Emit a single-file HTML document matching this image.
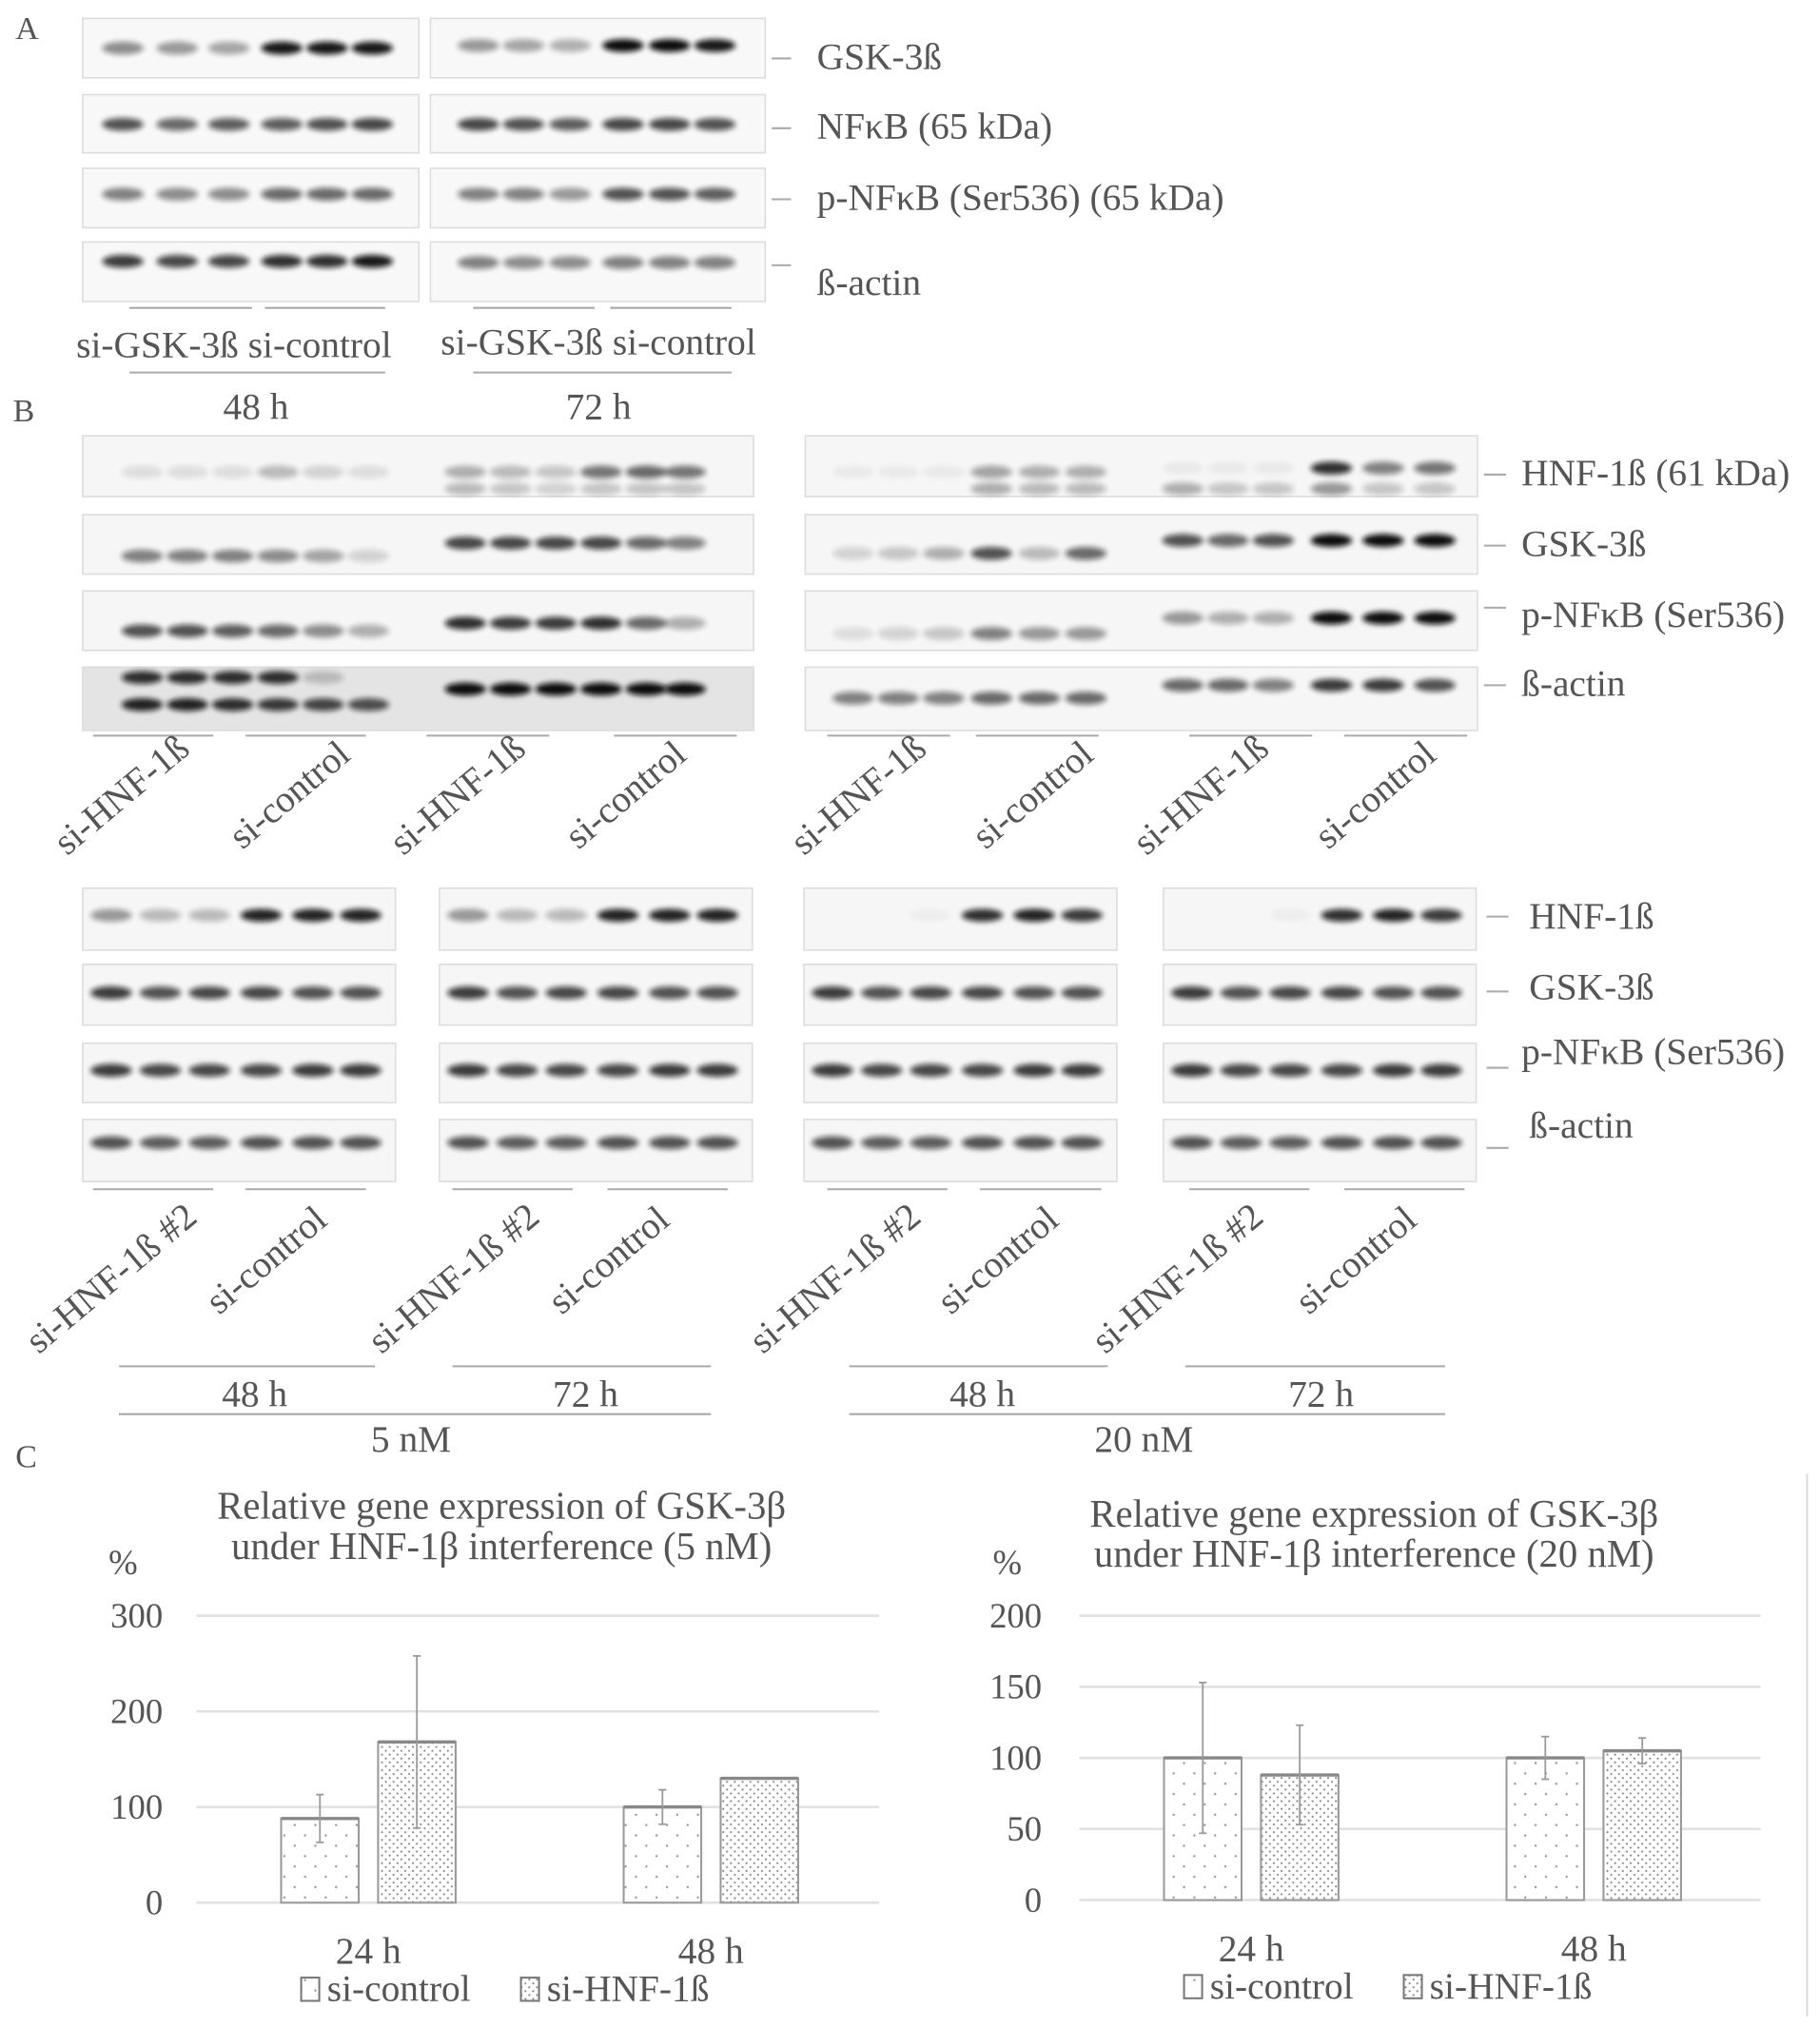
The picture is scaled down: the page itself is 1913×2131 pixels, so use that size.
<!DOCTYPE html>
<html><head><meta charset="utf-8"><style>
html,body{margin:0;padding:0;background:#fff}
svg{display:block}
text{font-family:"Liberation Serif",serif;fill:#555}
</style></head><body>
<svg id="fig" width="1913" height="2131" viewBox="0 0 1408 1568" xmlns="http://www.w3.org/2000/svg">
<defs>
<filter id="bl" x="-50%" y="-100%" width="200%" height="300%"><feGaussianBlur stdDeviation="2.2"/></filter>
<pattern id="pc" width="16" height="16" patternUnits="userSpaceOnUse"><rect width="16" height="16" fill="#fff"/><circle cx="4" cy="4" r="0.9" fill="#999"/><circle cx="12" cy="12" r="0.9" fill="#999"/></pattern>
<pattern id="ph" width="6" height="6" patternUnits="userSpaceOnUse"><rect width="6" height="6" fill="#fff"/><circle cx="1.5" cy="1.5" r="0.8" fill="#888"/><circle cx="4.5" cy="4.5" r="0.8" fill="#888"/></pattern>
</defs>
<g id="blots"></g>
<g id="txt" font-size="29">
<text x="12" y="30" font-size="25">A</text>
<text x="632" y="53">GSK-3ß</text>
<text x="632" y="107">NFκB (65 kDa)</text>
<text x="632" y="162">p-NFκB (Ser536) (65 kDa)</text>
<text x="632" y="228">ß-actin</text>
<text x="181" y="276" text-anchor="middle">si-GSK-3ß si-control</text>
<text x="463" y="274" text-anchor="middle">si-GSK-3ß si-control</text>
<text x="198" y="324" text-anchor="middle">48 h</text>
<text x="463" y="324" text-anchor="middle">72 h</text>
<text x="10" y="326" font-size="25">B</text>
<text x="1177" y="375">HNF-1ß (61 kDa)</text>
<text x="1177" y="430">GSK-3ß</text>
<text x="1177" y="485">p-NFκB (Ser536)</text>
<text x="1177" y="538">ß-actin</text>
<text x="1183" y="718">HNF-1ß</text>
<text x="1183" y="773">GSK-3ß</text>
<text x="1177" y="823">p-NFκB (Ser536)</text>
<text x="1183" y="880">ß-actin</text>
<text x="197" y="1088" text-anchor="middle">48 h</text>
<text x="453" y="1088" text-anchor="middle">72 h</text>
<text x="760" y="1088" text-anchor="middle">48 h</text>
<text x="1022" y="1088" text-anchor="middle">72 h</text>
<text x="318" y="1123" text-anchor="middle">5 nM</text>
<text x="885" y="1123" text-anchor="middle">20 nM</text>
<text x="12" y="1135" font-size="25">C</text>
</g>
<g id="charts"></g>
<line x1="1398" y1="1140" x2="1398" y2="1560" stroke="#ddd" stroke-width="1.5"/>
</svg>
<script>
// ---- chart data ----
const categories = ["24 h", "48 h"];
const c1Control = [88, 100];
const c1ControlErr = [25, 18];
const c1Hnf = [168, 130];
const c1HnfErr = [90, 0];
const c1Ticks = [0, 100, 200, 300];
const c2Control = [100, 100];
const c2ControlErr = [53, 15];
const c2Hnf = [88, 105];
const c2HnfErr = [35, 9];
const c2Ticks = [0, 50, 100, 150, 200];

const NS = "http://www.w3.org/2000/svg";
function mk(tag, attrs, parent) {
  const e = document.createElementNS(NS, tag);
  for (const k in attrs) e.setAttribute(k, attrs[k]);
  parent.appendChild(e);
  return e;
}
const blots = document.getElementById('blots');
const lines = document.getElementById('txt');

function box(x, y, w, h, bg, name) {
  const r = mk('rect', {x: x, y: y, width: w, height: h, fill: bg || '#f7f7f7', stroke: '#ddd', 'stroke-width': 1.2}, blots);
  
  
}
function bands(xs, y, ints, name, bw) {
  xs.forEach((x, i) => {
    if (ints[i] <= 0) return;
    const e = mk('ellipse', {cx: x, cy: y, rx: (bw || 32) / 2, ry: 5, fill: '#111', opacity: ints[i], filter: 'url(#bl)'}, blots);
    
    
  });
}
function hline(x1, x2, y, name) {
  const l = mk('line', {x1: x1, x2: x2, y1: y, y2: y, stroke: '#aaa', 'stroke-width': 1.5}, blots);
  
  
}
function rot(x, y, s, name) {
  const t = mk('text', {x: x, y: y, 'text-anchor': 'middle', transform: 'rotate(-40 ' + x + ' ' + y + ')'}, lines);
  t.textContent = s;
  
  
}

// Panel A
const aL = [95, 137, 177, 218, 253, 288], aR = [370, 405, 441, 482, 518, 553];
[[14, 60], [73, 118], [130, 176], [187, 233]].forEach((r, i) => {
  box(64, r[0], 260, r[1] - r[0], '#f8f8f8', 'blot-a-left');
  box(333, r[0], 259, r[1] - r[0], '#f8f8f8', 'blot-a-right');
});
bands(aL, 37, [.45, .4, .35, .95, .95, .95], 'band-gsk-a'); bands(aR, 35, [.4, .35, .3, 1, 1, .95], 'band-gsk-a');
bands(aL, 96, [.7, .6, .65, .65, .7, .75], 'band-nfkb-a'); bands(aR, 96, [.75, .7, .65, .75, .75, .7], 'band-nfkb-a');
bands(aL, 150, [.5, .45, .45, .6, .6, .6], 'band-pnfkb-a'); bands(aR, 150, [.5, .5, .4, .7, .7, .65], 'band-pnfkb-a');
bands(aL, 202, [.8, .75, .75, .85, .85, .95], 'band-actin-a'); bands(aR, 203, [.5, .45, .45, .5, .5, .5], 'band-actin-a');
[[45], [99], [154], [205]].forEach(v => hline(597, 612, v[0], 'label-tick'));
hline(100, 195, 238, 'group-line'); hline(205, 298, 238, 'group-line'); hline(366, 460, 238, 'group-line'); hline(472, 566, 238, 'group-line');
hline(100, 298, 288, 'time-line'); hline(366, 566, 288, 'time-line');

// Panel B top
const b1 = [110, 145, 180, 215, 250, 285], b2 = [360, 395, 430, 465, 500, 530];
const b3 = [660, 695, 730, 767, 804, 840], b4 = [915, 950, 985, 1030, 1070, 1110];
[[337, 384], [398, 444], [457, 503], [516, 565]].forEach((r, i) => {
  box(64, r[0], 519, r[1] - r[0], i === 3 ? '#e4e4e4' : '#f6f6f6', 'blot-b-left');
  box(623, r[0], 520, r[1] - r[0], '#f6f6f6', 'blot-b-right');
});
bands(b1, 365, [.1, .1, .1, .25, .15, .1], 'band-hnf'); bands(b2, 365, [.3, .25, .2, .55, .6, .55], 'band-hnf'); bands(b2, 378, [.25, .2, .15, .2, .2, .2], 'band-hnf');
bands(b3, 365, [.05, .05, .05, .35, .3, .3], 'band-hnf'); bands(b3, 378, [0, 0, 0, .3, .25, .25], 'band-hnf');
bands(b4, 362, [.05, .05, .05, .85, .5, .55], 'band-hnf'); bands(b4, 378, [.3, .2, .2, .4, .2, .2], 'band-hnf');
bands(b1, 430, [.5, .5, .5, .45, .35, .15], 'band-gsk'); bands(b2, 420, [.75, .75, .75, .75, .6, .5], 'band-gsk');
bands(b3, 428, [.15, .2, .3, .7, .25, .6], 'band-gsk'); bands(b4, 418, [.7, .6, .7, 1, 1, 1], 'band-gsk');
bands(b1, 488, [.7, .7, .65, .6, .45, .3], 'band-pnf'); bands(b2, 482, [.85, .8, .8, .85, .6, .3], 'band-pnf');
bands(b3, 490, [.1, .15, .2, .5, .4, .4], 'band-pnf'); bands(b4, 478, [.4, .3, .3, 1, 1, 1], 'band-pnf');
bands(b1, 524, [.85, .85, .85, .85, .2, 0], 'band-actin'); bands(b1, 545, [.9, .9, .85, .8, .75, .7], 'band-actin');
bands(b2, 533, [1, 1, 1, 1, 1, 1], 'band-actin');
bands(b3, 540, [.5, .5, .5, .6, .6, .6], 'band-actin'); bands(b4, 530, [.6, .6, .5, .8, .8, .7], 'band-actin');
[367, 422, 470, 530].forEach(v => hline(1148, 1165, v, 'label-tick'));
[[72, 165], [190, 283], [330, 425], [475, 570], [640, 735], [755, 850], [920, 1015], [1040, 1135]].forEach(p => hline(p[0], p[1], 569, 'group-line'));
[[100, 'si-HNF-1ß'], [230, 'si-control'], [360, 'si-HNF-1ß'], [490, 'si-control'], [670, 'si-HNF-1ß'], [805, 'si-control'], [935, 'si-HNF-1ß'], [1070, 'si-control']].forEach(p => rot(p[0], 622, p[1], 'lane-group-label'));

// Panel B bottom
const bx = [64, 340, 622, 900], off = [22, 60, 98, 138, 178, 215];
bx.forEach((x, bi) => {
  [[687, 735], [746, 793], [807, 853], [866, 914]].forEach(r => box(x, r[0], 242, r[1] - r[0], '#f6f6f6', 'blot-b2'));
  const xs = off.map(o => x + o);
  bands(xs, 708, bi < 2 ? [.4, .25, .25, .9, .9, .9] : [0, 0, .03, .85, .9, .8], 'band-hnf2');
  bands(xs, 768, [.8, .7, .75, .75, .7, .7], 'band-gsk2');
  bands(xs, 828, [.8, .75, .75, .75, .8, .8], 'band-pnf2');
  bands(xs, 884, [.7, .65, .65, .7, .7, .7], 'band-actin2');
});
[709, 767, 826, 888].forEach(v => hline(1150, 1167, v, 'label-tick'));
[[72, 165], [190, 283], [350, 443], [470, 563], [640, 733], [758, 852], [920, 1013], [1040, 1133]].forEach(p => hline(p[0], p[1], 920, 'group-line'));
[[92, 'si-HNF-1ß #2'], [212, 'si-control'], [357, 'si-HNF-1ß #2'], [477, 'si-control'], [652, 'si-HNF-1ß #2'], [778, 'si-control'], [917, 'si-HNF-1ß #2'], [1055, 'si-control']].forEach((p, i) => rot(p[0], i % 2 ? 982 : 996, p[1], 'lane-group-label'));
[[92, 290], [350, 550], [657, 857], [917, 1118]].forEach(p => hline(p[0], p[1], 1057, 'time-line'));
hline(92, 550, 1094, 'conc-line'); hline(657, 1118, 1094, 'conc-line');

// Charts
const charts = document.getElementById('charts');
function chart(cfg) {
  const g = mk('g', {}, charts);
  
  
  const ys = v => cfg.y0 - (v / cfg.max) * (cfg.y0 - cfg.yTop);
  const catX = i => cfg.catX0 + i * cfg.catStep;
  cfg.title.forEach((s, i) => {
    const t = mk('text', {x: cfg.titleX, y: cfg.titleY + i * 31, 'text-anchor': 'middle', 'font-size': 30}, g);
    t.textContent = s;
    
    
  });
  const pc = mk('text', {x: cfg.pctX, y: 1218, 'font-size': 27}, g); pc.textContent = '%';
   
  cfg.ticks.forEach(v => {
    const l = mk('line', {x1: cfg.x0, x2: cfg.x1, y1: ys(v), y2: ys(v), stroke: '#e2e2e2', 'stroke-width': 2}, g);
     
    const t = mk('text', {x: cfg.tickX, y: ys(v) + 9, 'text-anchor': 'end', 'font-size': 27}, g);
    t.textContent = v;
     
  });
  const bw = 60, gap = 15;
  categories.forEach((c, i) => {
    const cx = catX(i);
    [[cfg.ctrl, cfg.ctrlErr, 'url(#pc)', cx - gap / 2 - bw, 'bar-si-control'], [cfg.hnf, cfg.hnfErr, 'url(#ph)', cx + gap / 2, 'bar-si-hnf']].forEach(s => {
      const v = s[0][i], e = s[1][i];
      const r = mk('rect', {x: s[3], y: ys(v), width: bw, height: cfg.y0 - ys(v), fill: s[2], stroke: '#999', 'stroke-width': 1.5}, g);
       
      const tl = mk('line', {x1: s[3], x2: s[3] + bw, y1: ys(v), y2: ys(v), stroke: '#888', 'stroke-width': 2.5}, g);
       
      if (e > 0) {
        const ex = s[3] + bw / 2;
        const el = mk('line', {x1: ex, x2: ex, y1: ys(v + e), y2: ys(v - e), stroke: '#999', 'stroke-width': 1.3}, g);
         
        [v + e, v - e].forEach(w => {
          const cp = mk('line', {x1: ex - 3, x2: ex + 3, y1: ys(w), y2: ys(w), stroke: '#999', 'stroke-width': 1.3}, g);
           
        });
      }
    });
    const t = mk('text', {x: cx, y: cfg.y0 + 47, 'text-anchor': 'middle', 'font-size': 29}, g);
    t.textContent = c;
     
  });
  const ly = cfg.y0 + 76;
  [[cfg.legX, 'url(#pc)', 'si-control'], [cfg.legX + 170, 'url(#ph)', 'si-HNF-1ß']].forEach(p => {
    const r = mk('rect', {x: p[0], y: ly - 18, width: 14, height: 18, fill: p[1], stroke: '#777', 'stroke-width': 1.5}, g);
     
    const t = mk('text', {x: p[0] + 20, y: ly, 'font-size': 29}, g);
    t.textContent = p[2];
     
  });
}
chart({name: 'chart-5nm', title: ['Relative gene expression of GSK-3β', 'under HNF-1β interference (5 nM)'], titleX: 388, titleY: 1175, pctX: 84,
  x0: 152, x1: 680, y0: 1472, yTop: 1250, max: 300, ticks: c1Ticks, tickX: 126, catX0: 285, catStep: 265,
  ctrl: c1Control, ctrlErr: c1ControlErr, hnf: c1Hnf, hnfErr: c1HnfErr, legX: 233});
chart({name: 'chart-20nm', title: ['Relative gene expression of GSK-3β', 'under HNF-1β interference (20 nM)'], titleX: 1063, titleY: 1181, pctX: 768,
  x0: 835, x1: 1362, y0: 1470, yTop: 1250, max: 200, ticks: c2Ticks, tickX: 806, catX0: 968, catStep: 265,
  ctrl: c2Control, ctrlErr: c2ControlErr, hnf: c2Hnf, hnfErr: c2HnfErr, legX: 916});
</script>
</body></html>
